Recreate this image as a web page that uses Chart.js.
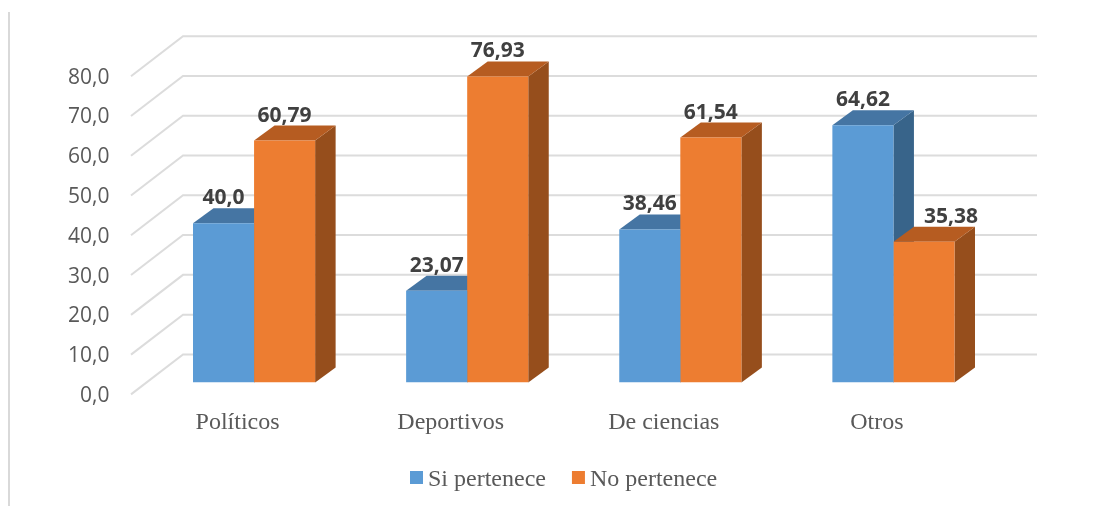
<!DOCTYPE html>
<html lang="es">
<head>
<meta charset="utf-8">
<style>html,body{margin:0;padding:0;background:#fff}canvas{display:block}</style>
<script src="https://cdn.jsdelivr.net/npm/chart.js@4"></script>
</head>
<body>
<canvas id="c" width="1099" height="506"></canvas>
<script>
const categories = ['Políticos', 'Deportivos', 'De ciencias', 'Otros'];
const siPertenece = [40.0, 23.07, 38.46, 64.62];
const noPertenece = [60.79, 76.93, 61.54, 35.38];
const siLabels = ['40,0', '23,07', '38,46', '64,62'];
const noLabels = ['60,79', '76,93', '61,54', '35,38'];
const tickStep = 10;
const tickMax = 80;

const depth = { dx: 20.5, dy: 15 };
const floor = { frontDx: 16.5, frontDy: 12, backDx: 52, backDy: 40, right: 1037 };

const scene3d = {
  id: 'scene3d',
  beforeDraw(chart) {
    const c = chart.ctx;
    c.save();
    c.fillStyle = '#fff';
    c.fillRect(0, 0, chart.width, chart.height);
    c.strokeStyle = '#D9D9D9';
    c.lineWidth = 2;
    c.beginPath();
    c.moveTo(9, 12);
    c.lineTo(9, chart.height);
    c.stroke();
    c.restore();
  },
  beforeDatasetsDraw(chart) {
    const c = chart.ctx, y = chart.scales.y, x = chart.scales.x;
    c.save();
    c.strokeStyle = '#DCDCDC';
    c.lineWidth = 2;
    y.ticks.forEach(t => {
      const fy = y.getPixelForValue(t.value) + floor.frontDy;
      const fx = x.left - floor.frontDx;
      c.beginPath();
      c.moveTo(fx, fy);
      c.lineTo(fx + floor.backDx, fy - floor.backDy);
      c.lineTo(floor.right, fy - floor.backDy);
      c.stroke();
    });
    chart.data.datasets.forEach((ds, i) => {
      chart.getDatasetMeta(i).data.forEach(b => {
        const l = b.x - b.width / 2, r = b.x + b.width / 2, t = b.y, bot = b.base;
        c.fillStyle = ds.sideColor;
        c.beginPath();
        c.moveTo(r, t); c.lineTo(r + depth.dx, t - depth.dy);
        c.lineTo(r + depth.dx, bot - depth.dy); c.lineTo(r, bot);
        c.closePath(); c.fill();
        c.fillStyle = ds.topColor;
        c.beginPath();
        c.moveTo(l, t); c.lineTo(l + depth.dx, t - depth.dy);
        c.lineTo(r + depth.dx, t - depth.dy); c.lineTo(r, t);
        c.closePath(); c.fill();
      });
    });
    c.restore();
  },
  afterDraw(chart) {
    const c = chart.ctx;
    c.save();
    // value labels
    c.font = 'bold 21px "Open Sans"';
    c.fillStyle = '#404040';
    c.textAlign = 'center';
    c.textBaseline = 'middle';
    chart.data.datasets.forEach((ds, i) => {
      chart.getDatasetMeta(i).data.forEach((b, k) => {
        const nudge = (i === 1 && k === 3) ? 27 : 0;
        c.fillText(ds.valueLabels[k], b.x + nudge, b.y - 25);
      });
    });
    // legend
    c.font = '24px "Liberation Serif"';
    c.textAlign = 'left';
    const box = 13, gap = 5, between = 26, ly = 480;
    const widths = chart.data.datasets.map(d => c.measureText(d.label).width);
    let lx = 410;
    chart.data.datasets.forEach((d, i) => {
      c.fillStyle = d.backgroundColor;
      c.fillRect(lx, ly - 9, box, box);
      c.fillStyle = '#595959';
      c.fillText(d.label, lx + box + gap, ly);
      lx += box + gap + widths[i] + between;
    });
    c.restore();
  }
};

new Chart(document.getElementById('c'), {
  type: 'bar',
  data: {
    labels: categories,
    datasets: [
      { label: 'Si pertenece', data: siPertenece, valueLabels: siLabels,
        backgroundColor: '#5B9BD5', topColor: '#4575A3', sideColor: '#38648A' },
      { label: 'No pertenece', data: noPertenece, valueLabels: noLabels,
        backgroundColor: '#ED7D31', topColor: '#B65C21', sideColor: '#964E1C' }
    ]
  },
  plugins: [scene3d],
  options: {
    responsive: false,
    animation: false,
    layout: { padding: { top: 64.2, right: 99, left: 0, bottom: 0 } },
    datasets: { bar: { categoryPercentage: 0.573, barPercentage: 1 } },
    plugins: { legend: { display: false }, tooltip: { enabled: false }, title: { display: false } },
    scales: {
      x: {
        grid: { display: false, drawTicks: false },
        border: { display: false },
        afterFit: s => { s.height = 123.6; },
        ticks: {
          font: { family: '"Liberation Serif"', size: 24 },
          color: '#595959',
          padding: 26,
          labelOffset: -16.5,
          autoSkip: false,
          maxRotation: 0
        }
      },
      y: {
        min: 0,
        max: tickMax,
        grid: { display: false, drawTicks: false },
        border: { display: false },
        afterFit: s => { s.width = 147.5; },
        ticks: {
          stepSize: tickStep,
          font: { family: '"Open Sans"', size: 21 },
          color: '#595959',
          padding: 38,
          labelOffset: 13.5,
          callback: v => v.toFixed(1).replace('.', ',')
        }
      }
    }
  }
});
</script>
</body>
</html>
